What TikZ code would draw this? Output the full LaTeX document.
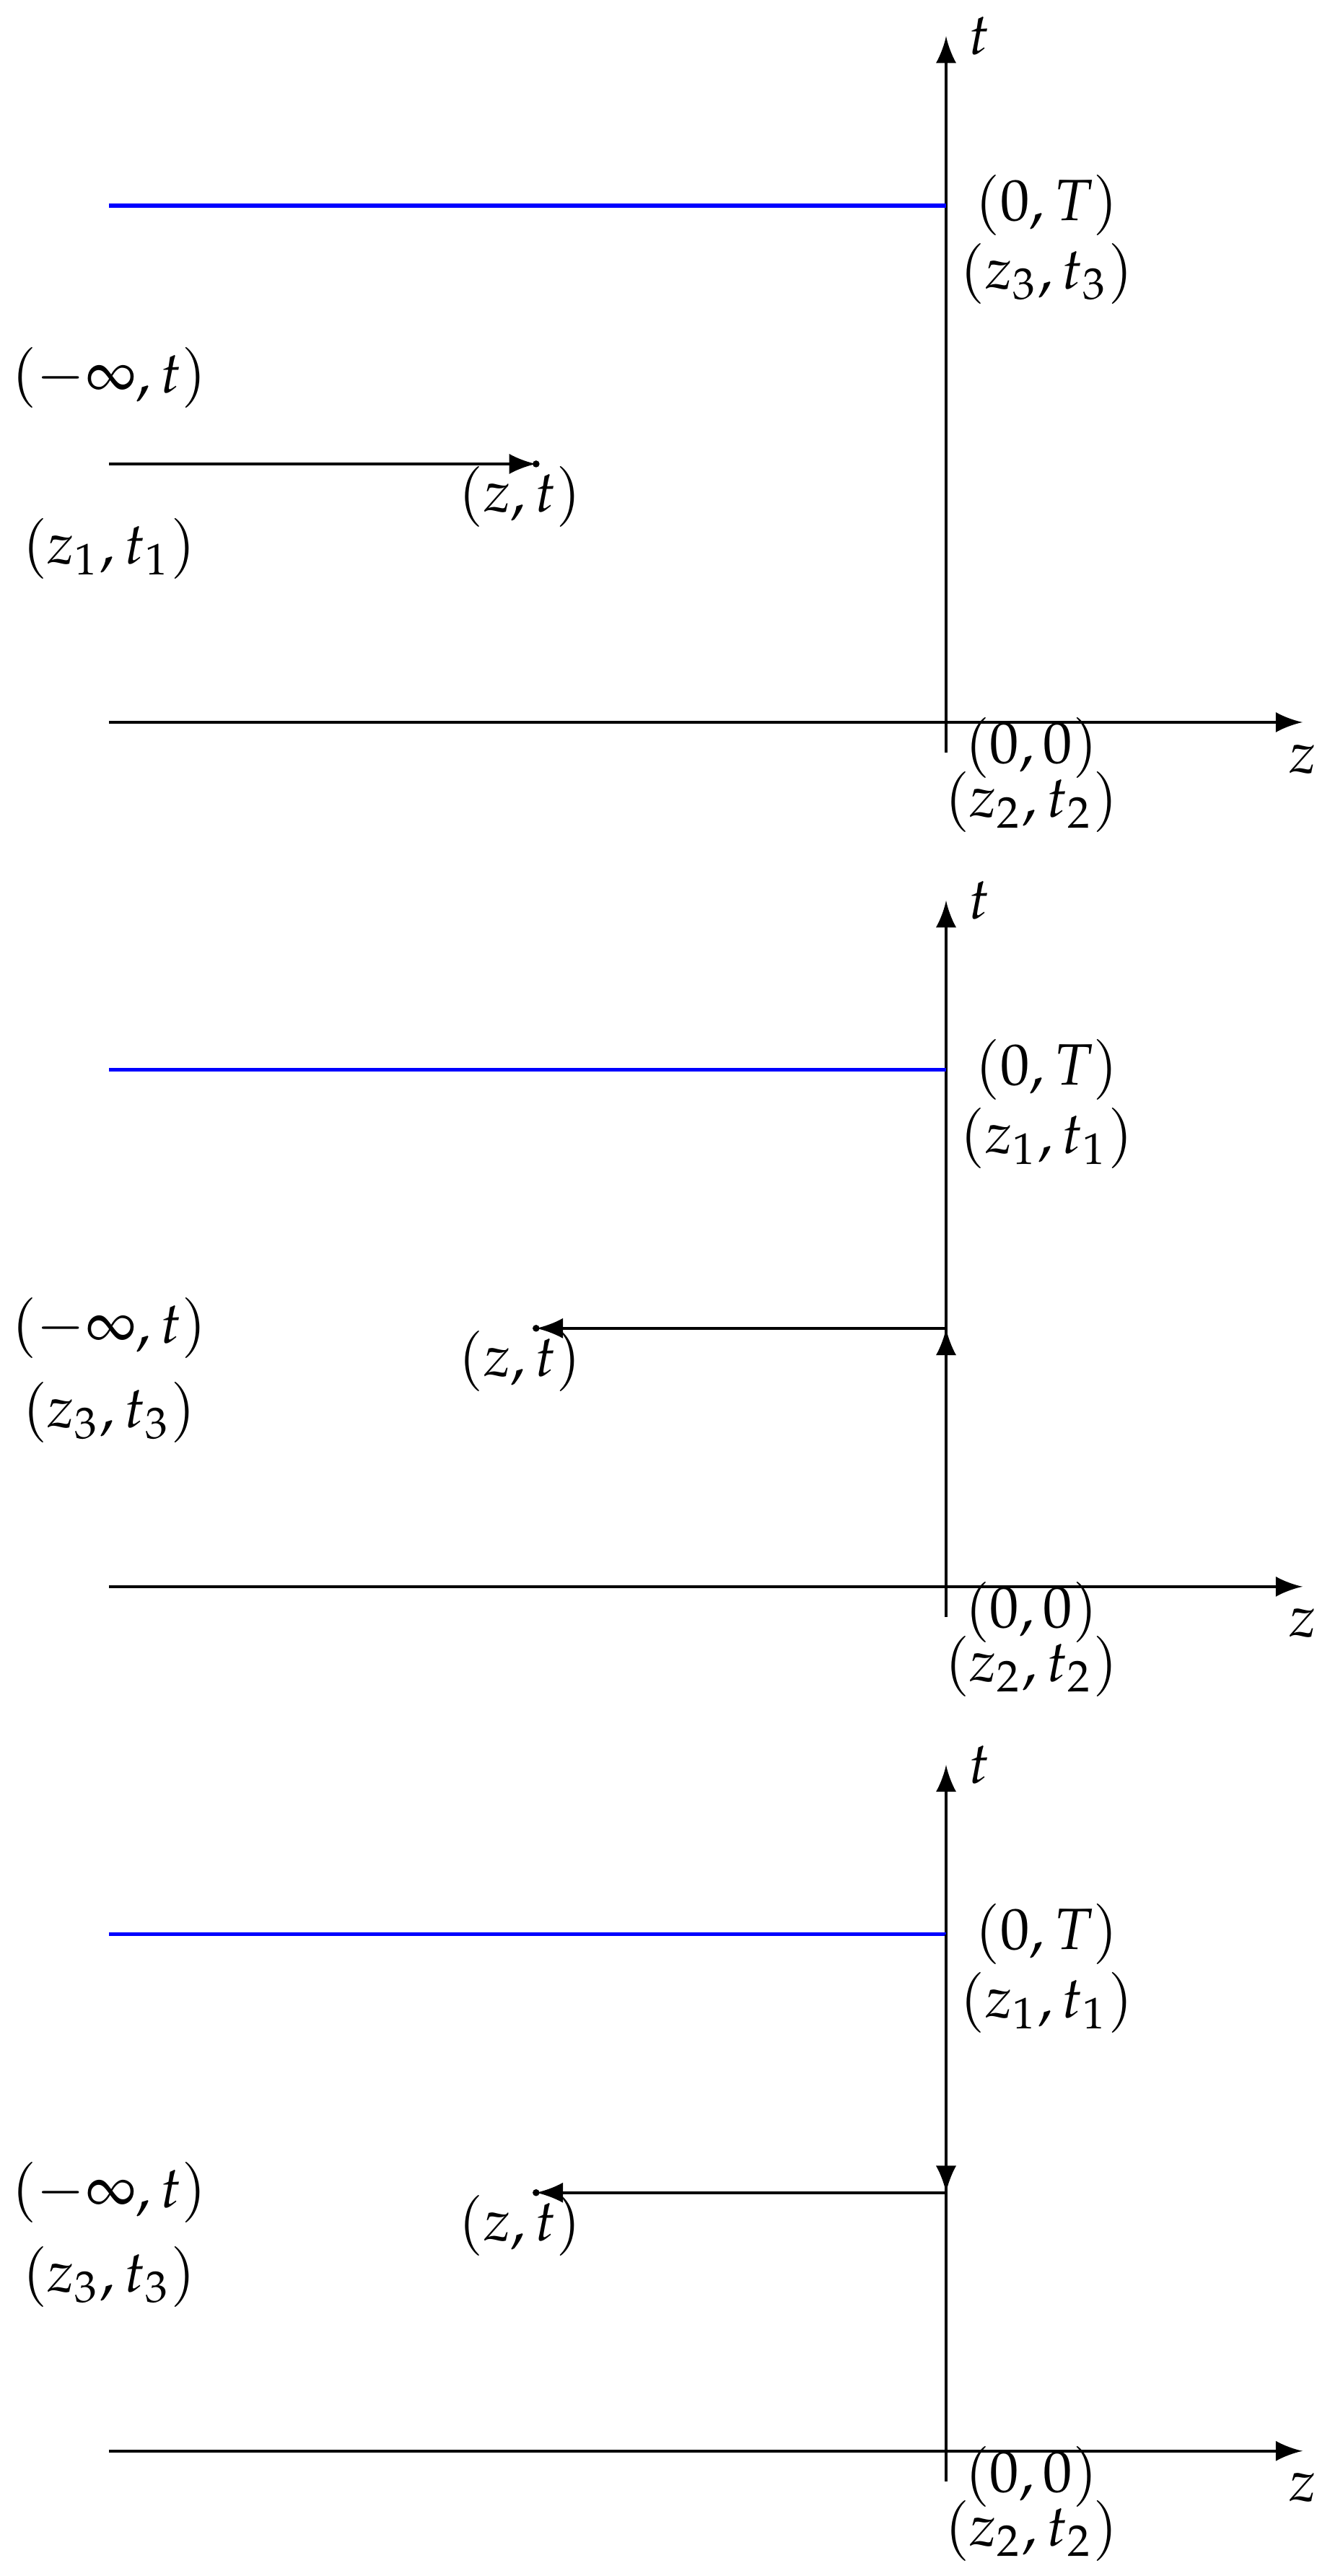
\documentclass[tikz,border=0pt]{standalone}
\usepackage{amsmath,amssymb}
\usepackage{mathpazo}
\usepackage{tikz}
\usetikzlibrary{positioning}
\tikzset{bdry/.style={blue,line width=0.6pt}}

\begin{document}
\begin{tikzpicture}[>=latex,x=1.45cm,y=1.45cm,line width=0.5pt,font=\fontsize{9.3}{11}\selectfont]
\useasboundingbox (-3.662,-7.176) rectangle (1.486,2.796);
\begin{scope}
\coordinate(zL)at(-3.24,0); \coordinate(zR)at(1.38,0);
\coordinate(tB)at(0,-0.117); \coordinate(tT)at(0,2.656);
\coordinate(bL)at(-3.24,2); \coordinate(bR)at(0,2);
\coordinate(aL)at(-3.24,1); \coordinate(aR)at(-1.587,1);
\draw[->](zL)--(zR)node[below](zlab){$z$};
\draw[->](tB)--(tT)node[right](tlab){$t$};
\draw[bdry](bL)--(bR);
\draw[->](aL)--(aR);
\fill(aR)circle(0.55pt);
\node(pT) at (0.39,2){$(0,T)$};
\node(pTn) at (0.39,1.735){$(z_3,t_3)$};
\node(pinf) at (-3.24,1.335){$(-\infty,t)$};
\node(pinfn) at (-3.24,0.673){$(z_1,t_1)$};
\node(pzt) at (-1.65,0.872){$(z,t)$};
\node(pO) at (0.33,-0.10){$(0,0)$};
\node(pOn) at (0.33,-0.31){$(z_2,t_2)$};
\end{scope}
\begin{scope}[shift={(0,-3.346)}]
\coordinate(zL)at(-3.24,0); \coordinate(zR)at(1.38,0);
\coordinate(tB)at(0,-0.117); \coordinate(tT)at(0,2.656);
\coordinate(bL)at(-3.24,2); \coordinate(bR)at(0,2);
\coordinate(O)at(0,0); \coordinate(aR)at(0,1); \coordinate(aL)at(-1.587,1);
\draw[->](zL)--(zR)node[below](zlab){$z$};
\draw[->](tB)--(tT)node[right](tlab){$t$};
\draw[bdry](bL)--(bR);
\draw[->](O)--(aR);
\draw[->](aR)--(aL);
\fill(aL)circle(0.55pt);
\node(pT) at (0.39,2){$(0,T)$};
\node(pTn) at (0.39,1.735){$(z_1,t_1)$};
\node(pinf) at (-3.24,1){$(-\infty,t)$};
\node(pinfn) at (-3.24,0.673){$(z_3,t_3)$};
\node(pzt) at (-1.65,0.872){$(z,t)$};
\node(pO) at (0.33,-0.10){$(0,0)$};
\node(pOn) at (0.33,-0.31){$(z_2,t_2)$};
\end{scope}
\begin{scope}[shift={(0,-6.692)}]
\coordinate(zL)at(-3.24,0); \coordinate(zR)at(1.38,0);
\coordinate(tB)at(0,-0.117); \coordinate(tT)at(0,2.656);
\coordinate(bL)at(-3.24,2); \coordinate(bR)at(0,2);
\coordinate(aR)at(0,1); \coordinate(aL)at(-1.587,1);
\draw[->](zL)--(zR)node[below](zlab){$z$};
\draw[->](tB)--(tT)node[right](tlab){$t$};
\draw[bdry](bL)--(bR);
\draw[->](bR)--(aR);
\draw[->](aR)--(aL);
\fill(aL)circle(0.55pt);
\node(pT) at (0.39,2){$(0,T)$};
\node(pTn) at (0.39,1.735){$(z_1,t_1)$};
\node(pinf) at (-3.24,1){$(-\infty,t)$};
\node(pinfn) at (-3.24,0.673){$(z_3,t_3)$};
\node(pzt) at (-1.65,0.872){$(z,t)$};
\node(pO) at (0.33,-0.10){$(0,0)$};
\node(pOn) at (0.33,-0.31){$(z_2,t_2)$};
\end{scope}
\end{tikzpicture}
\end{document}
